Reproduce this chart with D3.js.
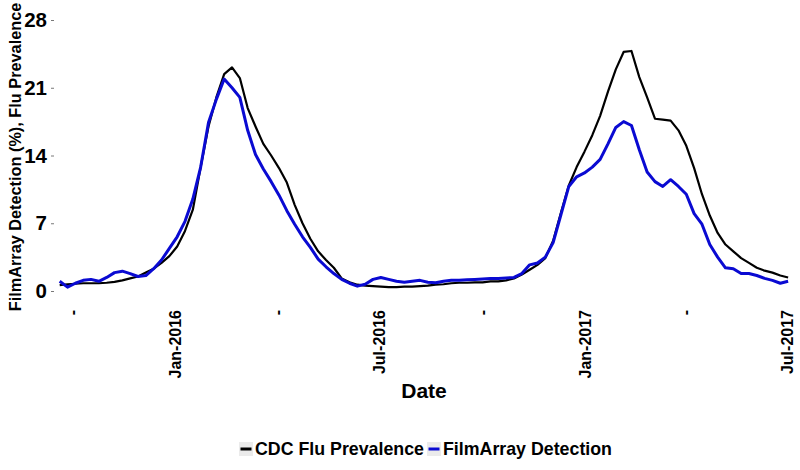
<!DOCTYPE html>
<html>
<head>
<meta charset="utf-8">
<script src="https://cdn.jsdelivr.net/npm/d3@7/dist/d3.min.js"></script>
<style>
  html, body { margin: 0; padding: 0; background: #fff; }
  svg { display: block; }
  text { font-family: "Liberation Sans", Arial, sans-serif; font-weight: bold; }
</style>
</head>
<body>
<svg id="chart" width="800" height="470"></svg>
<script>
// ---- data ----
const startDate = "2015-09-20";   // first weekly observation
const cdcFlu = [
  0.6, 0.7, 0.75, 0.8, 0.8, 0.8, 0.85, 0.95, 1.1, 1.3,
  1.5, 1.9, 2.3, 2.9, 3.6, 4.6, 6.2, 8.4, 12.8, 17.0,
  20.0, 22.4, 23.1, 22.0, 18.9, 17.0, 15.2, 14.0, 12.7, 11.2,
  8.9, 7.0, 5.4, 4.1, 3.2, 2.4, 1.3, 0.9, 0.65, 0.55,
  0.5, 0.45, 0.4, 0.4, 0.45, 0.45, 0.5, 0.55, 0.65, 0.7,
  0.8, 0.85, 0.85, 0.9, 0.9, 1.0, 1.0, 1.1, 1.3, 1.7,
  2.2, 2.7, 3.4, 5.2, 8.1, 10.9, 12.8, 14.4, 16.1, 18.1,
  20.6, 22.9, 24.7, 24.8, 22.1, 20.0, 17.8, 17.7, 17.6, 16.6,
  15.0, 12.7, 10.0, 7.8, 6.0, 4.8, 4.1, 3.4, 2.9, 2.4,
  2.1, 1.9, 1.6, 1.4
];
const filmArray = [
  1.0, 0.4, 0.8, 1.1, 1.2, 1.0, 1.4, 1.9, 2.05, 1.8,
  1.5, 1.6, 2.3, 3.2, 4.4, 5.6, 7.2, 9.5, 12.8, 17.4,
  19.8, 21.9, 21.0, 20.0, 16.6, 14.1, 12.6, 11.3, 9.9, 8.3,
  6.9, 5.6, 4.5, 3.3, 2.5, 1.8, 1.2, 0.8, 0.5, 0.7,
  1.2, 1.4, 1.2, 1.0, 0.9, 1.0, 1.1, 0.9, 0.85, 1.0,
  1.1, 1.1, 1.15, 1.2, 1.25, 1.3, 1.3, 1.35, 1.4, 1.8,
  2.7, 2.9, 3.5, 5.0, 7.9, 10.8, 11.8, 12.2, 12.8, 13.6,
  15.2, 16.9, 17.5, 17.1, 14.6, 12.3, 11.3, 10.8, 11.5, 10.8,
  10.0, 8.0, 6.9, 4.8, 3.5, 2.4, 2.3, 1.8, 1.8, 1.6,
  1.3, 1.1, 0.8, 1.0
];
const xTickDates  = ["2015-10-01", "2016-01-01", "2016-04-01", "2016-07-01", "2016-10-01", "2017-01-01", "2017-04-01", "2017-07-01"];
const xTickLabels = ["-", "Jan-2016", "-", "Jul-2016", "-", "Jan-2017", "-", "Jul-2017"];
const yTicks = [0, 7, 14, 21, 28];
const seriesNames = ["CDC Flu Prevalence", "FilmArray Detection"];
const seriesColors = ["#000000", "#0a0ad2"];

// ---- build ----
const parse = d3.timeParse("%Y-%m-%d");
const start = parse(startDate);
const dates = cdcFlu.map((_, i) => d3.timeDay.offset(start, 7 * i));
const tickDates = xTickDates.map(parse);

const svg = d3.select("#chart");

const x = d3.scaleTime()
  .domain([parse("2015-10-01"), parse("2017-07-01")])
  .range([72, 787]);
const y = d3.scaleLinear().domain([0, 28]).range([291, 20]);

// y axis
const yAxis = svg.append("g")
  .attr("transform", "translate(54,0)")
  .call(d3.axisLeft(y).tickValues(yTicks).tickSize(3).tickPadding(4));
yAxis.select(".domain").remove();
yAxis.selectAll(".tick line").attr("stroke", "#555").attr("stroke-width", 0.8);
yAxis.selectAll(".tick text")
  .attr("fill", "#000")
  .style("font-size", "20.5px")
  .style("font-weight", "bold");

// x axis
const xAxis = svg.append("g")
  .attr("transform", "translate(0,309)")
  .call(d3.axisBottom(x).tickValues(tickDates).tickSize(0)
    .tickFormat((d, i) => xTickLabels[i]));
xAxis.select(".domain").remove();
xAxis.selectAll(".tick text")
  .attr("fill", "#000")
  .style("font-size", "16px")
  .style("font-weight", "bold")
  .attr("text-anchor", "end")
  .attr("transform", "rotate(-90)")
  .attr("x", -1)
  .attr("y", 0)
  .attr("dy", "0.35em");

// lines (CDC first, FilmArray drawn on top)
const series = [cdcFlu, filmArray];
const line = d3.line()
  .x((d, i) => x(dates[i]))
  .y(d => y(d));
series.forEach((vals, k) => {
  svg.append("path")
    .datum(vals)
    .attr("fill", "none")
    .attr("stroke", seriesColors[k])
    .attr("stroke-width", k === 0 ? 2.2 : 3)
    .attr("stroke-linejoin", "round")
    .attr("d", line);
});

// axis titles
svg.append("text")
  .attr("x", 424)
  .attr("y", 398)
  .attr("text-anchor", "middle")
  .style("font-size", "21px")
  .text("Date");

svg.append("text")
  .attr("transform", "translate(21,157) rotate(-90)")
  .attr("text-anchor", "middle")
  .style("font-size", "16.3px")
  .text("FilmArray Detection (%), Flu Prevalence");

// legend
const legend = svg.append("g").attr("transform", "translate(0,449)");
const legendItems = [{ x: 239, tx: 255 }, { x: 427, tx: 443 }];
seriesNames.forEach((name, k) => {
  const g = legend.append("g").attr("transform", `translate(${legendItems[k].x},0)`);
  g.append("rect").attr("x", 0).attr("y", -7).attr("width", 14).attr("height", 14).attr("fill", "#ebebeb");
  g.append("line").attr("x1", 1.5).attr("x2", 12.5).attr("y1", 0).attr("y2", 0)
    .attr("stroke", seriesColors[k]).attr("stroke-width", 3);
  legend.append("text")
    .attr("x", legendItems[k].tx)
    .attr("y", 0)
    .attr("dy", "0.36em")
    .style("font-size", "17.8px")
    .text(name);
});
</script>
</body>
</html>
